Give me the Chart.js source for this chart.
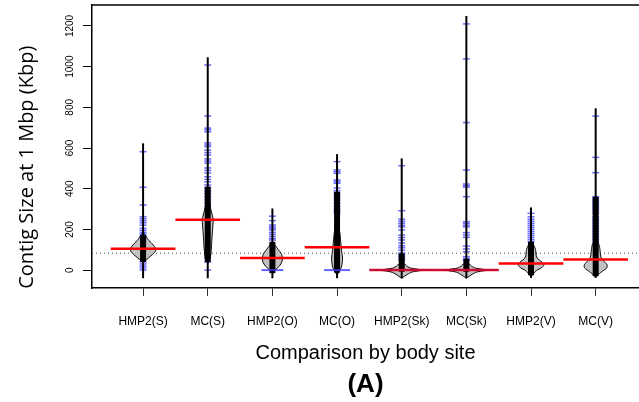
<!DOCTYPE html>
<html>
<head>
<meta charset="utf-8">
<script src="https://cdn.jsdelivr.net/npm/chart.js@4.4.1/dist/chart.umd.min.js"></script>
<style>
  html, body { margin: 0; padding: 0; background: #fff; overflow: hidden; }
  canvas { display: block; }
</style>
</head>
<body>
<canvas id="beans" width="639" height="402"></canvas>
<script>
// categories
const sites = ["HMP2(S)", "MC(S)", "HMP2(O)", "MC(O)", "HMP2(Sk)", "MC(Sk)", "HMP2(V)", "MC(V)"];
const yTicks = [0, 200, 400, 600, 800, 1000, 1200];

// red lines (bean medians) and the dotted overall line
const medians = [105, 248, 60, 112, 0, 0, 32, 52];
const overallLine = 83;

// full range of each bean and the dense part where beanlines merge
const minVals = [-40, -40, -40, -40, -40, -40, -38, -38];
const maxVals = [623, 1046, 303, 570, 549, 1249, 308, 795];
const denseLo = [40, 40, -15, -12, -8, -8, -25, -30];
const denseHi = [172, 410, 139, 385, 82, 55, 139, 360];

// density outline of each bean: y values and half widths (in category units)
const densY = [
  [190, 170, 150, 130, 115, 103, 90, 75, 60, 45, 35],
  [400, 350, 300, 270, 248, 220, 180, 140, 100, 60, 30],
  [140, 120, 100, 80, 60, 40, 20, 5, -13],
  [230, 190, 150, 110, 80, 60, 30, 10, -5, -25],
  [42, 30, 20, 10, 3, 0, -3, -10, -20, -30, -40],
  [44, 30, 20, 10, 3, 0, -3, -10, -20, -30, -40],
  [140, 120, 100, 80, 65, 50, 40, 25, 10, 0, -15, -33],
  [150, 130, 110, 90, 70, 55, 40, 25, 10, -5, -20, -35]
];
const densW = [
  [0, 0.039, 0.077, 0.139, 0.178, 0.197, 0.186, 0.139, 0.085, 0.031, 0],
  [0, 0.023, 0.046, 0.07, 0.085, 0.08, 0.07, 0.062, 0.054, 0.039, 0],
  [0, 0.046, 0.093, 0.139, 0.155, 0.147, 0.108, 0.054, 0],
  [0, 0.039, 0.054, 0.065, 0.077, 0.085, 0.077, 0.062, 0.039, 0],
  [0, 0.046, 0.077, 0.139, 0.279, 0.413, 0.279, 0.155, 0.093, 0.046, 0],
  [0, 0.046, 0.077, 0.139, 0.279, 0.405, 0.279, 0.155, 0.093, 0.046, 0],
  [0, 0.046, 0.07, 0.077, 0.085, 0.124, 0.17, 0.2, 0.155, 0.093, 0.046, 0],
  [0, 0.046, 0.062, 0.07, 0.077, 0.093, 0.139, 0.178, 0.17, 0.108, 0.046, 0]
];

// single observations drawn as blue beanlines
const bluePts = [
  [582, 407, 320, 262, 252, 242, 232, 221, 205, 195, 185, 175, 165, 40, 30, 20, 10, 0],
  [1008, 757, 698, 690, 680, 625, 615, 607, 590, 578, 566, 546, 536, 526, 502, 490, 477, 459, 446, 434, 418, 405, 390, 375, 360, 345, 330, 80, 60, 40, 0],
  [265, 243, 222, 213, 205, 197, 185, 175, 165, 155, 148],
  [533, 492, 484, 476, 443, 435, 427, 403, 390, 378, 366, 355, 344, 330, 315, 300, 290, 280],
  [513, 292, 250, 240, 230, 220, 212, 197, 172, 160, 148, 133, 120, 110, 98, 84, 75, 65, 55, 49],
  [1210, 1038, 725, 492, 423, 415, 408, 361, 238, 230, 221, 213, 184, 172, 161, 118, 104, 90, 66, 57, 49],
  [279, 262, 250, 240, 230, 220, 210, 200, 190, 180, 170, 160, 150, 140],
  [757, 554, 479, 361, 350, 340, 330, 320, 310, 300, 290, 279, 262, 250, 240, 230, 220, 210, 200, 190, 180, 170, 160, 150, 140]
];
// width of the stacked zero beanline (category units)
const zeroW = [0, 0, 0.17, 0.2, 0.5, 0.5, 0, 0];

const X_MIN = 0.21, X_MAX = 8.67;

const datasets = [];

datasets.push({
  data: [{ x: X_MIN, y: overallLine }, { x: X_MAX, y: overallLine }],
  showLine: true, borderColor: "#444", borderWidth: 1, borderDash: [1, 3],
  pointRadius: 0, order: 10
});

sites.forEach((s, i) => {
  const c = i + 1;
  const right = densY[i].map((v, k) => ({ x: c + densW[i][k], y: v }));
  const left = densY[i].map((v, k) => ({ x: c - densW[i][k], y: v })).reverse();
  datasets.push({
    data: right.concat(left),
    showLine: true, fill: "shape", tension: 0.2,
    backgroundColor: "#c2c2c2", borderColor: "#000", borderWidth: 1,
    pointRadius: 0, order: 9
  });
});

datasets.push({
  data: bluePts.flatMap((arr, i) => arr.map(v => ({ x: i + 1, y: v }))),
  showLine: false, pointStyle: "line", pointRadius: 3.5,
  borderColor: "rgba(30,30,255,0.65)", pointBorderWidth: 1.5, order: 8
});

sites.forEach((s, i) => {
  const c = i + 1;
  datasets.push({
    data: [{ x: c, y: minVals[i] }, { x: c, y: maxVals[i] }],
    showLine: true, borderColor: "#000", borderWidth: 2, pointRadius: 0, order: 7
  });
  datasets.push({
    data: [{ x: c, y: denseLo[i] }, { x: c, y: denseHi[i] }],
    showLine: true, borderColor: "#000", borderWidth: 6, pointRadius: 0, order: 6
  });
  if (zeroW[i] > 0) {
    datasets.push({
      data: [{ x: c - zeroW[i], y: 0 }, { x: c + zeroW[i], y: 0 }],
      showLine: true, borderColor: "rgba(60,60,255,0.8)", borderWidth: 2, pointRadius: 0, order: 5
    });
  }
  datasets.push({
    data: [{ x: c - 0.5, y: medians[i] }, { x: c + 0.5, y: medians[i] }],
    showLine: true, borderColor: zeroW[i] >= 0.5 ? "rgba(225,0,20,0.85)" : "#ff0000",
    borderWidth: 2.5, pointRadius: 0, order: 4
  });
});

// top edge of the plot box (R draws box on top, left and bottom here)
const topEdge = {
  id: "topEdge",
  afterDraw(chart) {
    const { ctx, chartArea } = chart;
    ctx.save();
    ctx.strokeStyle = "#000";
    ctx.lineWidth = 1.5;
    ctx.beginPath();
    ctx.moveTo(chartArea.left, chartArea.top);
    ctx.lineTo(chart.width, chartArea.top);
    ctx.stroke();
    ctx.restore();
  }
};

Chart.defaults.font.family = "'Liberation Sans', Arial, sans-serif";
Chart.defaults.color = "#000";

new Chart(document.getElementById("beans").getContext("2d"), {
  type: "scatter",
  data: { datasets: datasets },
  plugins: [topEdge],
  options: {
    responsive: false,
    animation: false,
    layout: { autoPadding: false, padding: { top: 5, left: 0, right: 0, bottom: 0 } },
    plugins: {
      legend: { display: false },
      tooltip: { enabled: false },
      title: {
        display: true,
        text: "(A)",
        position: "bottom",
        fullSize: false,
        font: { size: 26, weight: "bold" },
        padding: { top: 0, bottom: 2 }
      }
    },
    scales: {
      x: {
        type: "linear",
        position: "bottom",
        min: X_MIN,
        max: X_MAX,
        afterBuildTicks: (s) => { s.ticks = sites.map((_, i) => ({ value: i + 1 })); },
        afterFit: (s) => { s.height = 80.8; s.paddingLeft = 0; s.paddingRight = 0; },
        ticks: {
          autoSkip: false, maxRotation: 0, padding: 18,
          font: { size: 12 },
          callback: (v, idx) => sites[idx]
        },
        grid: { drawOnChartArea: false, tickLength: 8, color: "#333" },
        border: { color: "#000", width: 1.5 },
        title: {
          display: true,
          text: "Comparison by body site",
          font: { size: 20 },
          padding: { top: 13, bottom: 3 }
        }
      },
      y: {
        type: "linear",
        min: -88,
        max: 1303,
        afterBuildTicks: (s) => { s.ticks = yTicks.map(v => ({ value: v })); },
        afterFit: (s) => { s.width = 92; s.paddingTop = 0; s.paddingBottom = 0; },
        ticks: {
          minRotation: 90, maxRotation: 90, crossAlign: "center", padding: 2,
          font: { size: 10 },
          callback: (v) => String(v)
        },
        grid: { drawOnChartArea: false, tickLength: 9, color: "#000" },
        border: { color: "#000", width: 1.5 },
        title: {
          display: true,
          text: "Contig Size at 1 Mbp (Kbp)        ",
          font: { family: "'Open Sans', sans-serif", size: 20 },
          padding: { top: 15, bottom: 0 }
        }
      }
    }
  }
});
</script>
</body>
</html>
